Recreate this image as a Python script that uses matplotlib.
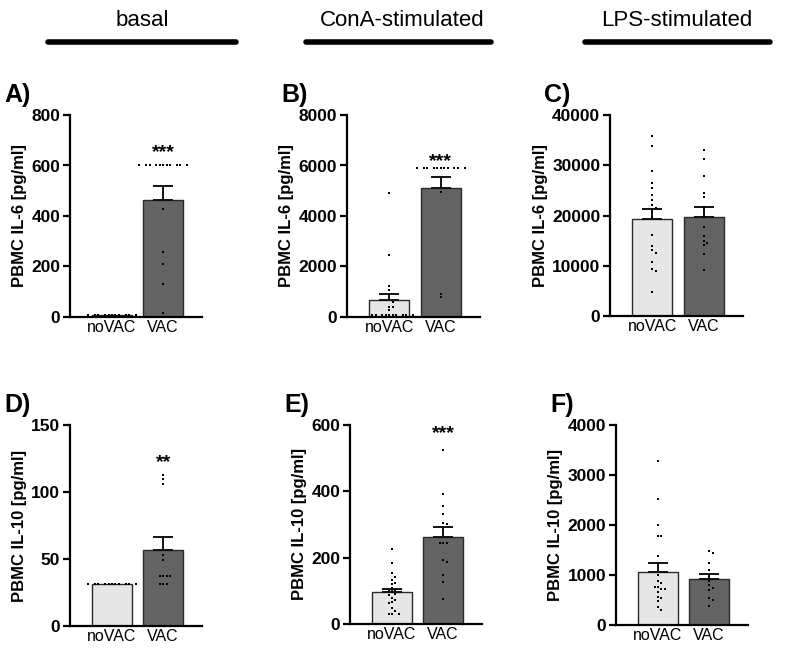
import numpy as np
import matplotlib
matplotlib.use("Agg")
import matplotlib.pyplot as plt

plt.rcParams['font.family'] = ['Liberation Sans', 'DejaVu Sans']

groups = ['noVAC', 'VAC']
bar_colors = ['#e6e6e6', '#646464']

headers = ['basal', 'ConA-stimulated', 'LPS-stimulated']
letters = ['A)', 'B)', 'C)', 'D)', 'E)', 'F)']
ylabels = ['PBMC IL-6 [pg/ml]'] * 3 + ['PBMC IL-10 [pg/ml]'] * 3
ymax = [800, 8000, 40000, 150, 600, 4000]
ystep = [200, 2000, 10000, 50, 200, 1000]

# bar heights (mean) and upper error (SEM)
means = [[9, 465], [660, 5090], [19400, 19730],
         [31, 56.7], [96, 263], [1067, 913]]
sems = [[0, 52], [265, 465], [1800, 1870],
        [0, 9.5], [10, 30], [166, 100]]

# individual donors
pts_A_no = [9] * 11
pts_A_vac = [600] * 11 + [426, 258, 208, 130, 17]
pts_B_no = [4930, 2450, 1230, 1060, 925, 730, 600, 400, 400, 265] + [95] * 10
pts_B_vac = [5900] * 11 + [4960, 925, 790]
pts_C_no = [35800, 33800, 28900, 26500, 25400, 24050, 23100, 22100, 21500,
            20700, 19700, 16100, 13900, 13100, 12600, 10800, 9450, 9000, 4800]
pts_C_vac = [33000, 31200, 27800, 24400, 23700, 21700, 19700, 17700, 15900,
             15000, 14600, 14100, 12400, 9100]
pts_D_no = [31] * 11
pts_D_vac = [113, 109.5, 106, 53, 49, 37, 37, 37, 37, 31, 31, 31]
pts_E_no = [225, 185, 153, 143, 133, 123, 120, 108, 103, 100, 96, 90, 88,
            78, 73, 66, 63, 48, 40, 30, 30, 30]
pts_E_vac = [525, 391, 355, 333, 305, 301, 243, 243, 243, 193, 188, 147,
             127, 76]
pts_F_no = [3290, 2530, 2000, 1780, 1780, 1380, 1000, 880, 833, 767, 767,
            713, 713, 667, 567, 533, 480, 367, 300]
pts_F_vac = [1490, 1450, 1250, 1110, 970, 880, 800, 733, 700, 533, 500, 380]

points = [[pts_A_no, pts_A_vac], [pts_B_no, pts_B_vac], [pts_C_no, pts_C_vac],
          [pts_D_no, pts_D_vac], [pts_E_no, pts_E_vac], [pts_F_no, pts_F_vac]]

stars = ['***', '***', '', '**', '***', '']
star_y = [650, 6150, 0, 122, 575, 0]

# axes boxes in pixels: left, top, right, bottom
W, H = 791, 650
boxes = [(70, 115, 202, 317), (347, 115, 480, 317), (610, 115, 743, 316),
         (70, 425, 202, 626), (350, 425, 482, 624), (616, 425, 748, 625)]


def swarm(vals, px_per_unit_y, px_per_unit_x, gap=3.4):
    # simple beeswarm: place points left/right until they do not overlap
    order = np.argsort(vals)[::-1]
    placed = []
    xs = np.zeros(len(vals))
    for i in order:
        y = vals[i] * px_per_unit_y
        k = 0
        while True:
            off = ((k + 1) // 2) * gap * (1 if k % 2 else -1) if k else 0.0
            if all((off - px) ** 2 + (y - py) ** 2 >= gap ** 2 for px, py in placed):
                break
            k += 1
        placed.append((off, y))
        xs[i] = off / px_per_unit_x
    return xs


fig = plt.figure(figsize=(W / 100, H / 100), dpi=100)

for i in range(6):
    l, t, r, b = boxes[i]
    ax = fig.add_axes([l / W, 1 - b / H, (r - l) / W, (b - t) / H])
    x0, x1 = -0.82, 1.76
    ax.set_xlim(x0, x1)
    ax.set_ylim(0, ymax[i])
    x = np.arange(2)
    ax.bar(x, means[i], width=0.78, color=bar_colors, edgecolor='#2a2a2a',
           linewidth=1.0, zorder=1)
    for j in range(2):
        if sems[i][j] > 0:
            ax.errorbar(x[j], means[i][j], yerr=[[0], [sems[i][j]]], color='#111111',
                        capsize=7, elinewidth=1.4, capthick=1.4, zorder=3)
        vals = np.array(points[i][j], dtype=float)
        pyu = (b - t) / ymax[i]
        pxu = (r - l) / (x1 - x0)
        xs = swarm(vals, pyu, pxu)
        ax.scatter(x[j] + xs, vals, s=3, marker='s', color='black', zorder=4,
                   linewidths=0)
    if stars[i]:
        ax.text(1, star_y[i], stars[i], ha='center', va='center',
                fontsize=14, fontweight='bold')
    for s in ['top', 'right']:
        ax.spines[s].set_visible(False)
    for s in ['left', 'bottom']:
        ax.spines[s].set_linewidth(1.6)
    ax.set_yticks(np.arange(0, ymax[i] + 1, ystep[i]))
    ax.set_xticks(x)
    ax.set_xticklabels(groups, fontsize=11.5)
    ax.tick_params(axis='x', length=0, pad=2)
    ax.tick_params(axis='y', length=5, width=1.6, labelsize=12.5, pad=2)
    for lab in ax.get_yticklabels():
        lab.set_fontweight('bold')
    ax.set_ylabel(ylabels[i], fontsize=12, fontweight='bold', labelpad=3)
    fig.text((l - 66) / W, 1 - (t - 20) / H, letters[i], fontsize=18,
             fontweight='bold', ha='left', va='center')

# column headers
head_x = [142, 402, 677]
line_x = [(48, 236), (306, 491), (585, 770)]
for k in range(3):
    fig.text(head_x[k] / W, 1 - 20 / H, headers[k], ha='center', va='center',
             fontsize=16)
    fig.add_artist(plt.Line2D([line_x[k][0] / W, line_x[k][1] / W],
                              [1 - 42 / H, 1 - 42 / H], color='black',
                              linewidth=4, solid_capstyle='round'))

plt.savefig('out.png', dpi=100)
